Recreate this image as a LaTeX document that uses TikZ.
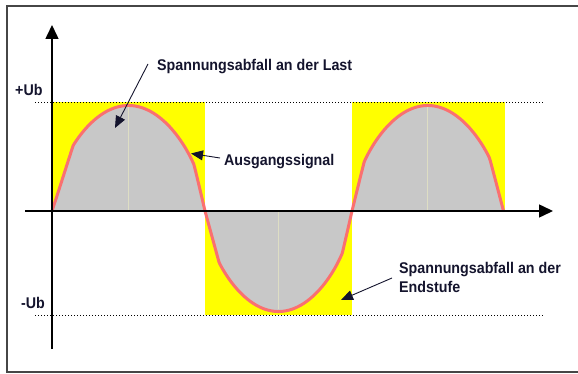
\documentclass[tikz,border=0pt]{standalone}
\usepackage{fontspec}
\setmainfont{Liberation Sans}[FakeStretch=0.92]
\usetikzlibrary{arrows.meta}
\definecolor{ybox}{RGB}{255,255,0}
\definecolor{gfill}{RGB}{200,200,200}
\definecolor{redc}{RGB}{250,112,112}
\definecolor{txt}{RGB}{20,20,45}
\definecolor{framec}{RGB}{70,70,70}
\definecolor{peakc}{RGB}{222,222,196}
\begin{document}
\begin{tikzpicture}[x=1pt,y=-1pt,
  lbl/.style={font=\fontsize{15.5}{19.5}\selectfont\bfseries, text=txt, inner sep=0pt},
  axis/.style={line width=1.5pt, -{Triangle[length=14pt,width=13pt]}},
  note/.style={line width=0.9pt, txt, -{Triangle[length=12pt,width=10pt]}},
  refline/.style={dash pattern=on 1pt off 2pt, line width=0.8pt},
  lobe/.style={domain=0.3:179.7, samples=140}]
\useasboundingbox (0,0) rectangle (578,374);
\draw[framec, line width=2pt] (578,6) -- (7,6) -- (7,372) -- (578,372);
% yellow supply areas
\fill[ybox] (52,102) rectangle (205,211);
\fill[ybox] (205,211) rectangle (352,315);
\fill[ybox] (352,102) rectangle (505,211);
% gray areas under the signal
\fill[gfill] (52,211) -- plot[lobe] ({52+\x/180*153},{211-105.5*min(pow(sin(\x),0.55),(1.39+0.61*\x/180)*sin(\x))}) -- (205,211) -- cycle;
\fill[gfill] (205,211) -- plot[lobe] ({205+\x/180*147},{211+100.5*min(pow(sin(\x),0.55),(1.69+0.37*\x/180)*sin(\x))}) -- (352,211) -- cycle;
\fill[gfill] (352,211) -- plot[lobe] ({352+\x/180*151.5},{211-105.5*min(pow(sin(\x),0.55),(1.87-0.12*\x/180)*sin(\x))}) -- (503.5,211) -- cycle;
% faint peak lines
\draw[peakc, line width=0.8pt] (128.5,107) -- (128.5,211);
\draw[peakc, line width=0.8pt] (278.5,211) -- (278.5,309);
\draw[peakc, line width=0.8pt] (427.5,107) -- (427.5,211);
% signal
\draw[redc, line width=3pt, line join=round]
  (52,211) -- plot[lobe] ({52+\x/180*153},{211-105.5*min(pow(sin(\x),0.55),(1.39+0.61*\x/180)*sin(\x))})
  -- (205,211) -- plot[lobe] ({205+\x/180*147},{211+100.5*min(pow(sin(\x),0.55),(1.69+0.37*\x/180)*sin(\x))})
  -- (352,211) -- plot[lobe] ({352+\x/180*151.5},{211-105.5*min(pow(sin(\x),0.55),(1.87-0.12*\x/180)*sin(\x))})
  -- (503.5,211);
% reference levels
\coordinate (ubl) at (35,102); \coordinate (ubr) at (543,102);
\coordinate (mbl) at (35,315); \coordinate (mbr) at (543,315);
\draw[refline] (ubl) -- (ubr);
\draw[refline] (mbl) -- (mbr);
% axes
\coordinate (yb) at (52,349); \coordinate (yt) at (52,25);
\coordinate (xl) at (25,211); \coordinate (xr) at (553,211);
\draw[axis] (yb) -- (yt);
\draw[axis] (xl) -- (xr);
% labels
\node[lbl, anchor=base west] (pub) at (15,96) {+Ub};
\node[lbl, anchor=base west] (mub) at (21,308) {-Ub};
\node[lbl, anchor=base west] (last) at (157,71) {Spannungsabfall an der Last};
\node[lbl, anchor=base west] (aus) at (224,165.5) {Ausgangssignal};
\node[lbl, anchor=base west] (end1) at (399,273) {Spannungsabfall an der};
\node[lbl, anchor=base west] (end2) at (399,292.5) {Endstufe};
% annotation arrows
\coordinate (a1s) at (148,64); \coordinate (a1t) at (115,128);
\coordinate (a2s) at (220,158); \coordinate (a2t) at (191,153.5);
\coordinate (a3s) at (392,278); \coordinate (a3t) at (341,300);
\draw[note] (a1s) -- (a1t);
\draw[note] (a2s) -- (a2t);
\draw[note] (a3s) -- (a3t);
\end{tikzpicture}
\end{document}
